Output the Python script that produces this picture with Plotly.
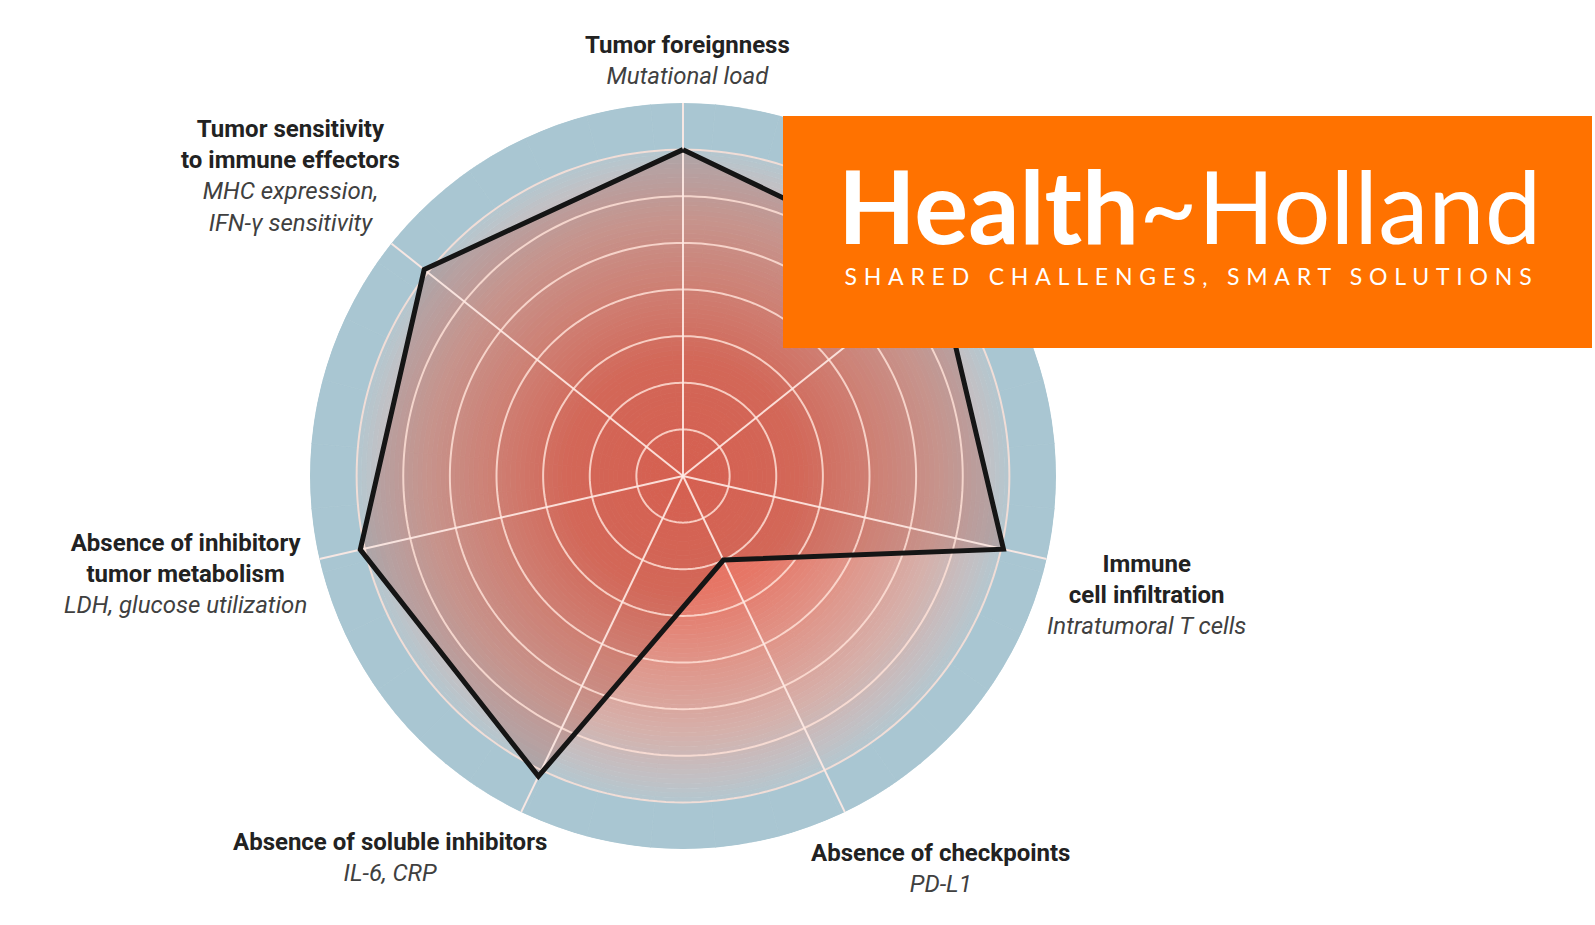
import numpy as np
import plotly.graph_objects as go

# ---------------- data ----------------
categories = [
    "Tumor foreignness",
    "General immune status",
    "Immune cell infiltration",
    "Absence of checkpoints",
    "Absence of soluble inhibitors",
    "Absence of inhibitory tumor metabolism",
    "Tumor sensitivity to immune effectors",
]
label_bold = [
    "Tumor foreignness",
    "General immune status",
    "Immune<br>cell infiltration",
    "Absence of checkpoints",
    "Absence of soluble inhibitors",
    "Absence of inhibitory<br>tumor metabolism",
    "Tumor sensitivity<br>to immune effectors",
]
label_italic = [
    "Mutational load",
    "Lymphocyte count",
    "Intratumoral T cells",
    "PD-L1",
    "IL-6, CRP",
    "LDH, glucose utilization",
    "MHC expression,<br>IFN-γ sensitivity",
]
patient_scores = [7.0, 7.0, 7.05, 2.0, 7.15, 7.1, 7.1]
grid_levels = [1, 2, 3, 4, 5, 6, 7]
scale_max = 8

# ---------------- style ----------------
W, H = 1595, 925
CX, CY, R = 683, 476, 373          # polar centre / radius in px
FONT = "Roboto, Arial, sans-serif"

n = len(categories)
theta = [i * 360.0 / n for i in range(n)]

# radial gradient of the background (value-space radius -> colour)
grad_r = [0.0, 2.5, 4.0, 5.5, 6.5, 7.0]
grad_c = [(234, 106, 90), (230, 118, 102), (224, 148, 136),
          (214, 176, 170), (194, 192, 196), (180, 199, 207)]
band_color = "rgb(169,198,210)"


def grad(rv):
    rv = min(max(rv, grad_r[0]), grad_r[-1])
    out = []
    for k in range(3):
        out.append(np.interp(rv, grad_r, [c[k] for c in grad_c]))
    return "rgb(%d,%d,%d)" % tuple(int(round(v)) for v in out)


dr = 0.1
n_sec = 36
bases, thetas, cols = [], [], []
for r0 in np.arange(0, grid_levels[-1] - 1e-9, dr):
    c = grad(r0 + dr / 2)
    for j in range(n_sec):
        bases.append(r0)
        thetas.append(j * 360.0 / n_sec)
        cols.append(c)

fig = go.Figure()

fig.add_trace(go.Barpolar(
    r=[dr] * len(bases), base=bases, theta=thetas, width=[360.0 / n_sec] * len(bases),
    marker=dict(color=cols, line=dict(color=cols, width=0.8)),
    hoverinfo="skip", showlegend=False,
))
# outer blue band
fig.add_trace(go.Barpolar(
    r=[scale_max - grid_levels[-1]] * n_sec, base=[grid_levels[-1]] * n_sec,
    theta=[j * 360.0 / n_sec for j in range(n_sec)], width=[360.0 / n_sec] * n_sec,
    marker=dict(color=band_color, line=dict(color=band_color, width=0.8)),
    hoverinfo="skip", showlegend=False,
))

closed_r = patient_scores + [patient_scores[0]]
closed_t = theta + [theta[0]]

# polygon fill (below grid)
fig.add_trace(go.Scatterpolar(
    r=closed_r, theta=closed_t, mode="lines", fill="toself",
    fillcolor="rgba(150,60,45,0.24)", line=dict(width=0, color="rgba(0,0,0,0)"),
    hoverinfo="skip", showlegend=False,
))

# grid rings
ring_t = list(np.linspace(0, 360, 241))
gr, gt = [], []
for lev in grid_levels:
    gr += [lev] * len(ring_t) + [None]
    gt += ring_t + [None]
fig.add_trace(go.Scatterpolar(
    r=gr, theta=gt, mode="lines", line=dict(color="rgba(255,226,216,0.82)", width=2),
    hoverinfo="skip", showlegend=False,
))
# spokes
sr, st = [], []
for t in theta:
    sr += [0, scale_max, None]
    st += [t, t, None]
fig.add_trace(go.Scatterpolar(
    r=sr, theta=st, mode="lines", line=dict(color="rgba(255,234,228,0.9)", width=2),
    hoverinfo="skip", showlegend=False,
))

# polygon outline
fig.add_trace(go.Scatterpolar(
    r=closed_r, theta=closed_t, mode="lines",
    line=dict(color="#151515", width=5), hoverinfo="skip", showlegend=False,
    name="Patient",
))

# ---------------- labels ----------------
label_pos = {            # centre of text block (px)
    0: (687, 60.5),
    2: (1146, 595),
    3: (941, 868),
    4: (390, 857),
    5: (185, 574),
    6: (290, 175.5),
}
annotations = []
for i, (px, py) in label_pos.items():
    txt = "<b>%s</b><br><i><span style='color:#404040'>%s</span></i>" % (label_bold[i], label_italic[i])
    annotations.append(dict(
        x=px / W, y=1 - py / H, xref="paper", yref="paper", xanchor="center", yanchor="middle",
        text=txt, showarrow=False, align="center",
        font=dict(family=FONT, size=24, color="#222222"),
    ))

# ---------------- logo box ----------------
shapes = [dict(type="rect", xref="paper", yref="paper",
               x0=783 / W, x1=1592 / W, y0=1 - 348 / H, y1=1 - 116 / H,
               fillcolor="#FF7200", line=dict(width=0), layer="above")]
annotations.append(dict(
    x=1189 / W, y=1 - 205 / H, xref="paper", yref="paper", xanchor="center", yanchor="middle",
    text="<b>Health</b>~Holland", showarrow=False,
    font=dict(family="Lato, Open Sans, sans-serif", size=101, color="white"),
))
annotations.append(dict(
    x=1191 / W, y=1 - 276 / H, xref="paper", yref="paper", xanchor="center", yanchor="middle",
    text="SHARED CHALLENGES, SMART SOLUTIONS", showarrow=False,
    font=dict(family="Lato, Open Sans, sans-serif", size=23, color="white"),
))

fig.update_layout(
    width=W, height=H, margin=dict(l=0, r=0, t=0, b=0),
    paper_bgcolor="white", plot_bgcolor="white", showlegend=False,
    polar=dict(
        domain=dict(x=[(CX - R) / W, (CX + R) / W], y=[1 - (CY + R) / H, 1 - (CY - R) / H]),
        bgcolor="rgba(0,0,0,0)", barmode="overlay",
        radialaxis=dict(range=[0, scale_max], visible=False),
        angularaxis=dict(rotation=90, direction="clockwise", visible=False),
    ),
    shapes=shapes, annotations=annotations,
)

post = """
document.body.style.margin = '0';
document.body.style.overflow = 'hidden';
document.querySelectorAll('text.annotation-text').forEach(function(t){
  if (t.textContent.indexOf('SHARED') === 0) { t.setAttribute('letter-spacing', '6.8px'); }
});
"""
fig.write_html("out.html", post_script=post, config={"displayModeBar": False})
